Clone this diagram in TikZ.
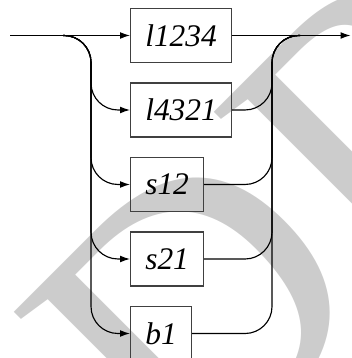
\documentclass[tikz,border=0pt]{standalone}
\usepackage{fontspec}
\setmainfont{Liberation Serif}
\usepackage{tikz}
\usetikzlibrary{positioning,arrows.meta,backgrounds}

\begin{document}
\begin{tikzpicture}[x=0.35pt, y=-0.35pt,
  term/.style={draw=black!75, line width=0.5pt, minimum height=18.9pt, inner xsep=5.1pt, inner ysep=0pt, anchor=west, font=\itshape\fontsize{11}{13}\selectfont},
  rail/.style={line width=0.4pt, rounded corners=9.45pt},
  feed/.style={rail, -{Latex[length=3.5pt, width=2.4pt]}},
  stamp/.style={rotate=45, anchor=base west, inner sep=0pt, text=black!20, font=\fontsize{137}{137}\selectfont}]
\useasboundingbox (0,0) rectangle (351,358);
\clip (0,0) rectangle (351,358);
\node[term] (l1234) at (130,35.5)  {l1234};
\node[term] (l4321) at (130,110)   {l4321};
\node[term] (s12)   at (130,184.5) {s12};
\node[term] (s21)   at (130,259)   {s21};
\node[term] (b1)    at (130,333.5) {b1};
\coordinate (in)   at (10,35.5);
\coordinate (pre)  at (63,35.5);
\coordinate (fork) at (91,35.5);
\coordinate (join) at (272,35.5);
\coordinate (post) at (300,35.5);
\coordinate (out)  at (350.5,35.5);
\begin{scope}[on background layer]
  \clip (0,0) rectangle (351,358);
  \node[stamp] (wm) at (187.5,501.5) {DR};
\end{scope}
\draw[feed] (in) -- (l1234);
\draw[feed] (pre) -- (fork) |- (l4321);
\draw[feed] (pre) -- (fork) |- (s12);
\draw[feed] (pre) -- (fork) |- (s21);
\draw[feed] (pre) -- (fork) |- (b1);
\draw[feed] (l1234) -- (out);
\draw[rail] (l4321) -| (join) -- (post);
\draw[rail] (s12) -| (join) -- (post);
\draw[rail] (s21) -| (join) -- (post);
\draw[rail] (b1) -| (join) -- (post);
\end{tikzpicture}
\end{document}
